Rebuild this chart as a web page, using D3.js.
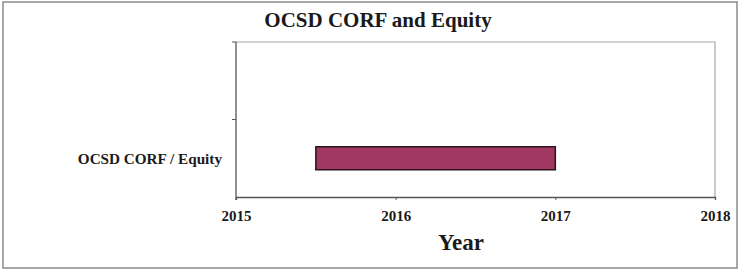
<!DOCTYPE html>
<html>
<head>
<meta charset="utf-8">
<style>
  body { margin: 0; background: #fff; }
  svg { display: block; }
  text { font-family: "Liberation Serif", "Times New Roman", serif; font-weight: bold; fill: #1a1a1a; }
</style>
</head>
<body>
<svg width="740" height="271"></svg>
<script src="https://d3js.org/d3.v7.min.js"></script>
<script>

// categories, top to bottom (top slot is empty in the original)
var categories = ["", "OCSD CORF / Equity"];
// bar start / end in years
var barStart = [null, 2015.5];
var barEnd = [null, 2017];
var yearTicks = [2015, 2016, 2017, 2018];

var svg = d3.select("svg");

// outer frame
svg.append("rect")
    .attr("x", 3).attr("y", 2).attr("width", 734).attr("height", 266)
    .attr("fill", "#fff").attr("stroke", "#8a8a8a").attr("stroke-width", 1.5);

var plotL = 236, plotR = 715, plotT = 42, plotB = 197;

var x = d3.scaleLinear().domain([2015, 2018]).range([plotL, plotR]);
var y = d3.scaleBand().domain(categories).range([plotT, plotB]);

// plot area: light top/right, darker left/bottom
svg.append("path")
    .attr("d", "M" + plotL + "," + plotT + "H" + plotR + "V" + plotB)
    .attr("fill", "none").attr("stroke", "#a8a8a8").attr("stroke-width", 1.2);

// bars
var rows = categories.map(function(c, i) { return { cat: c, s: barStart[i], e: barEnd[i] }; })
    .filter(function(d) { return d.s != null; });

var bh = 23;
svg.selectAll("rect.bar")
  .data(rows)
  .enter().append("rect")
    .attr("class", "bar")
    .attr("x", function(d) { return x(d.s); })
    .attr("y", function(d) { return y(d.cat) + y.bandwidth() / 2 - bh / 2; })
    .attr("width", function(d) { return x(d.e) - x(d.s); })
    .attr("height", bh)
    .attr("fill", "#a03862")
    .attr("stroke", "#2a1420").attr("stroke-width", 1.5);

// x axis
var xAxis = svg.append("g")
    .attr("transform", "translate(0," + plotB + ")")
    .call(d3.axisBottom(x).tickValues(yearTicks).tickFormat(d3.format("d")).tickSize(3).tickPadding(10));
xAxis.select(".domain").attr("stroke", "#555").attr("stroke-width", 1.3);
xAxis.selectAll(".tick line").attr("stroke", "#555");
xAxis.selectAll(".tick text").style("font-size", "15px").attr("fill", "#1a1a1a");

// y axis: ticks at category boundaries
var yAxis = svg.append("g").attr("transform", "translate(" + plotL + ",0)");
yAxis.append("line")
    .attr("x1", 0).attr("x2", 0).attr("y1", plotT).attr("y2", plotB + 3)
    .attr("stroke", "#555").attr("stroke-width", 1.3);
yAxis.selectAll("line.tk")
  .data(categories)
  .enter().append("line")
    .attr("class", "tk")
    .attr("x1", -4).attr("x2", 0)
    .attr("y1", function(d) { return y(d); }).attr("y2", function(d) { return y(d); })
    .attr("stroke", "#555");
yAxis.selectAll("text")
  .data(categories)
  .enter().append("text")
    .attr("x", -14)
    .attr("y", function(d) { return y(d) + y.bandwidth() / 2; })
    .attr("dy", "0.35em")
    .attr("text-anchor", "end")
    .style("font-size", "15.2px")
    .text(function(d) { return d; });

// title
svg.append("text")
    .attr("x", 378).attr("y", 27)
    .attr("text-anchor", "middle")
    .style("font-size", "21px")
    .text("OCSD CORF and Equity");

// x axis title
svg.append("text")
    .attr("x", 461).attr("y", 250)
    .attr("text-anchor", "middle")
    .style("font-size", "23px")
    .text("Year");

</script>
</body>
</html>
